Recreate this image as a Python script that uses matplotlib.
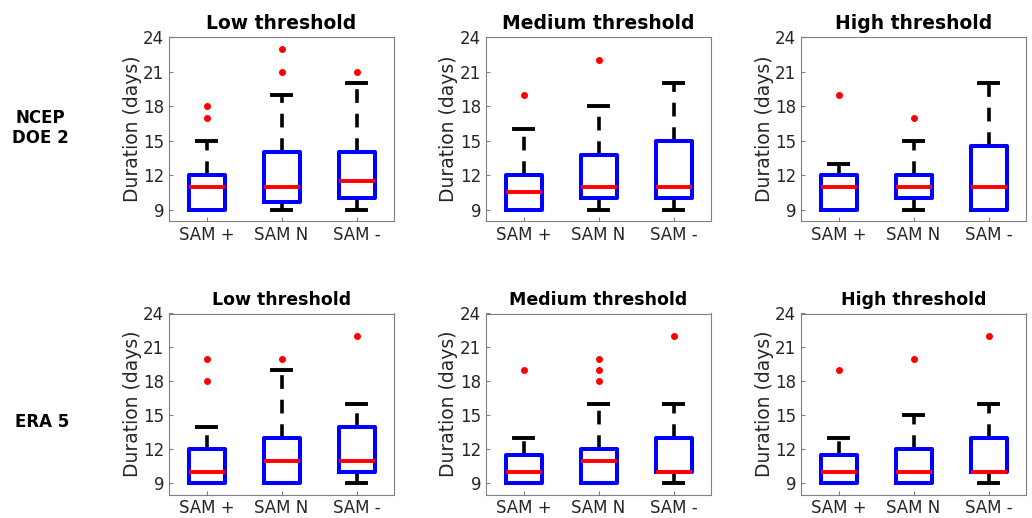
import numpy as np
import matplotlib.pyplot as plt

groups = ['SAM +', 'SAM N', 'SAM -']
thresholds = ['Low threshold', 'Medium threshold', 'High threshold']
datasets = ['NCEP\nDOE 2', 'ERA 5']

# per panel: [q1, median, q3, whisker low, whisker high] for SAM +, SAM N, SAM -
ncep_low = [[9, 11, 12, 9, 15], [9.7, 11, 14, 9, 19], [10, 11.5, 14, 9, 20]]
ncep_med = [[9, 10.5, 12, 9, 16], [10, 11, 13.75, 9, 18], [10, 11, 15, 9, 20]]
ncep_high = [[9, 11, 12, 9, 13], [10, 11, 12, 9, 15], [9, 11, 14.5, 9, 20]]
era_low = [[9, 10, 12, 9, 14], [9, 11, 13, 9, 19], [10, 11, 14, 9, 16]]
era_med = [[9, 10, 11.5, 9, 13], [9, 11, 12, 9, 16], [10, 10, 13, 9, 16]]
era_high = [[9, 10, 11.5, 9, 13], [9, 10, 12, 9, 15], [10, 10, 13, 9, 16]]

# outliers
ncep_low_out = [[17, 18], [21, 23], [21]]
ncep_med_out = [[19], [22], []]
ncep_high_out = [[19], [17], []]
era_low_out = [[18, 20], [20], [22]]
era_med_out = [[19], [18, 19, 20], [22]]
era_high_out = [[19], [20], [22]]

panels = [
    [(ncep_low, ncep_low_out), (ncep_med, ncep_med_out), (ncep_high, ncep_high_out)],
    [(era_low, era_low_out), (era_med, era_med_out), (era_high, era_high_out)],
]

fig = plt.figure(figsize=(10.32, 5.18), dpi=100)
W, H = 1032, 518
lefts = [169, 486, 801]
tops = [37.5, 313.5]
bottoms = [221, 494.5]
aw = 225

txt_col = '#262626'
for r in range(2):
    for c in range(3):
        ax = fig.add_axes([lefts[c] / W, 1 - bottoms[r] / H, aw / W, (bottoms[r] - tops[r]) / H])
        stats_list, outs = panels[r][c]
        stats = []
        for s, o in zip(stats_list, outs):
            stats.append(dict(q1=s[0], med=s[1], q3=s[2], whislo=s[3], whishi=s[4], fliers=o))
        ax.bxp(stats, positions=[1, 2, 3], widths=0.48, capwidths=0.26,
               showfliers=True,
               boxprops=dict(color='#0000ff', linewidth=2.9, zorder=4),
               medianprops=dict(color='#ff0000', linewidth=2.8, zorder=5),
               whiskerprops=dict(color='black', linewidth=2.6, linestyle=(0, (3.8, 3.0)), zorder=2),
               capprops=dict(color='black', linewidth=2.8, zorder=2),
               flierprops=dict(marker='o', markersize=4, markerfacecolor='#ff0000',
                               markeredgecolor='#ff0000'))
        ax.set_xlim(0.5, 3.5)
        ax.set_ylim(8, 24)
        ax.set_yticks([9, 12, 15, 18, 21, 24])
        ax.set_xticks([1, 2, 3])
        ax.set_xticklabels(groups)
        ax.tick_params(direction='in', length=3, labelsize=12, colors='#808080',
                       labelcolor=txt_col)
        for sp in ax.spines.values():
            sp.set_color('#808080')
            sp.set_linewidth(0.8)
        ax.set_ylabel('Duration (days)', fontsize=13.5, color=txt_col, labelpad=1)
        ax.set_title(thresholds[c], fontsize=13.5 if r == 0 else 12.5,
                     fontweight='bold', pad=6)

fig.text(40 / W, 1 - 128 / H, datasets[0], fontsize=12, fontweight='bold',
         ha='center', va='center', linespacing=1.1)
fig.text(42 / W, 1 - 422 / H, datasets[1], fontsize=12, fontweight='bold',
         ha='center', va='center')

fig.savefig('out.png', dpi=100)
